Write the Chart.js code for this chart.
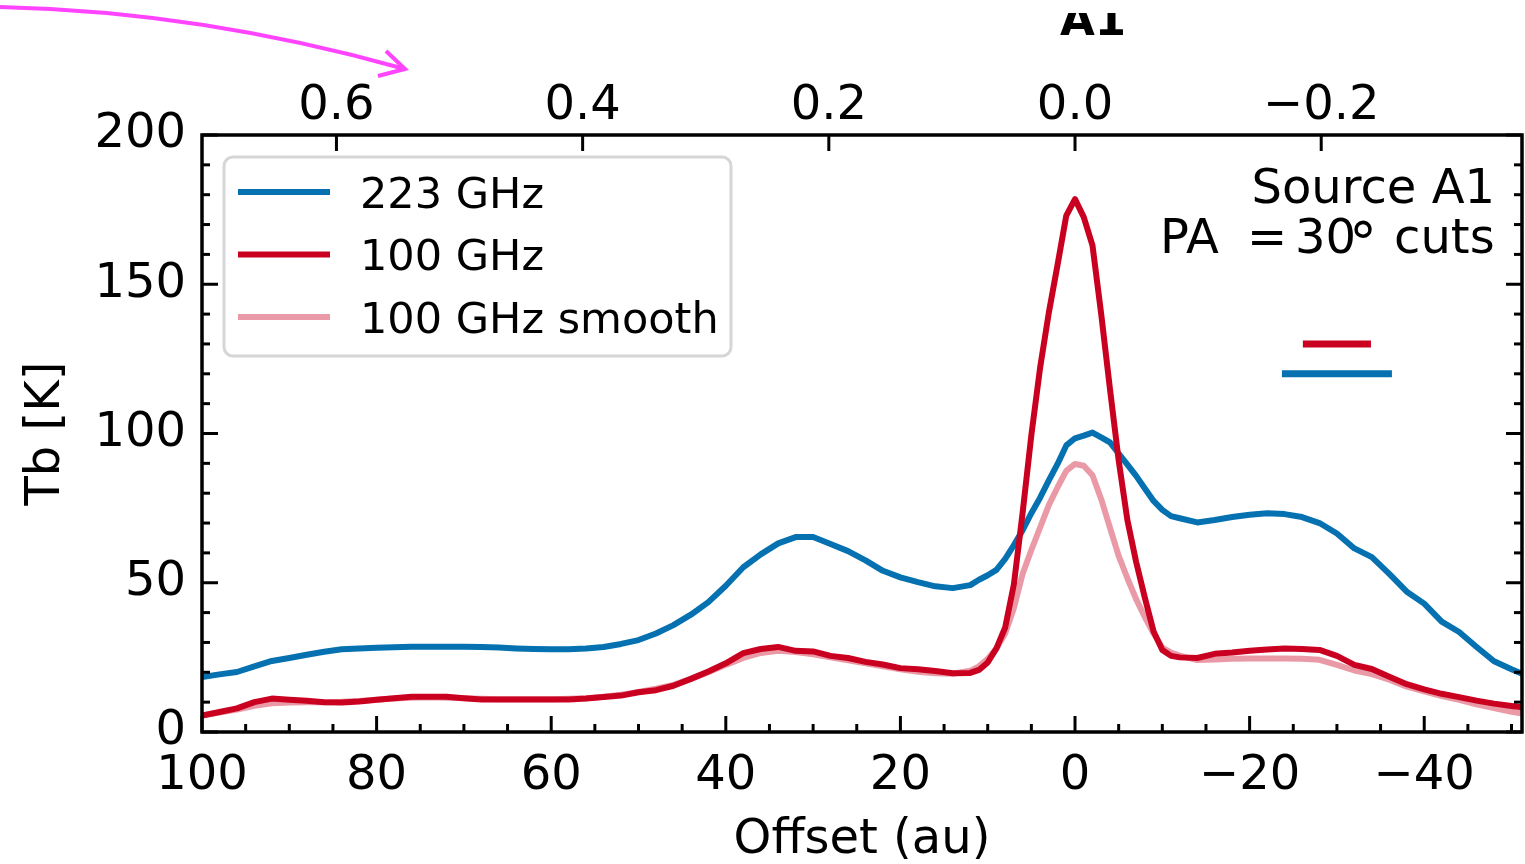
<!DOCTYPE html>
<html>
<head>
<meta charset="utf-8">
<title>A1 brightness temperature cuts</title>
<script src="https://cdn.jsdelivr.net/npm/chart.js@4.4.1/dist/chart.umd.min.js"></script>
<style>
  html, body { margin: 0; padding: 0; background: #fff; }
</style>
</head>
<body>
<canvas id="cuts" width="1525" height="864"></canvas>
<script>
// Offset along the PA = 30 deg cut, in au (positive to the left)
const offsetAu = [
  100, 98, 96, 94, 92, 90, 88, 86, 84, 82, 80, 78, 76, 74, 72, 70, 68, 66, 64, 62,
  60, 58, 56, 54, 52, 50, 48, 46, 44, 42, 40, 38, 36, 34, 32, 30, 28, 26, 24, 22,
  20, 18, 16, 14, 12, 11, 10, 9, 8, 7, 6, 5, 4, 3, 2, 1, 0, -1, -2, -3,
  -4, -5, -6, -7, -8, -9, -10, -11, -12, -14, -16, -18, -20, -22, -24, -26, -28, -30, -32, -34,
  -36, -38, -40, -42, -44, -46, -48, -50, -52
];

// Brightness temperature (K)
const tb223 = [
  18.4, 19.3, 20.1, 22.0, 23.8, 24.8, 25.9, 26.9, 27.7, 28.0, 28.2, 28.4, 28.6, 28.6, 28.6, 28.6, 28.5, 28.3, 28.0, 27.8,
  27.7, 27.7, 28.0, 28.5, 29.5, 30.8, 33.0, 35.8, 39.3, 43.5, 49.0, 55.2, 59.5, 63.2, 65.3, 65.3, 63.0, 60.6, 57.5, 54.0,
  51.8, 50.2, 48.8, 48.2, 49.2, 51.0, 52.5, 54.3, 58.0, 62.6, 67.6, 73.3, 78.5, 84.3, 89.8, 96.0, 98.4, 99.3, 100.3, 98.7,
  97.0, 93.3, 89.6, 85.8, 81.6, 77.4, 74.4, 72.3, 71.6, 70.2, 71.0, 72.0, 72.8, 73.3, 73.0, 72.0, 70.0, 66.5, 61.5, 58.6,
  53.0, 47.0, 43.0, 37.0, 33.5, 28.5, 23.7, 21.0, 18.5
];
const tb100 = [
  5.5, 6.7, 7.9, 10.0, 11.2, 10.8, 10.5, 10.0, 9.9, 10.2, 10.8, 11.3, 11.8, 11.8, 11.8, 11.3, 10.9, 10.9, 10.9, 10.9,
  10.9, 10.9, 11.2, 11.7, 12.2, 13.3, 14.0, 15.5, 17.8, 20.3, 23.0, 26.4, 27.8, 28.5, 27.2, 27.0, 25.5, 24.8, 23.5, 22.6,
  21.4, 21.0, 20.4, 19.7, 19.8, 20.8, 23.3, 28.0, 35.0, 49.5, 73.5, 99.5, 122.0, 140.5, 156.5, 173.0, 178.5, 172.5, 163.0, 140.0,
  115.0, 91.0, 71.0, 57.0, 45.0, 33.7, 27.5, 25.5, 25.0, 24.8, 26.2, 26.6, 27.2, 27.6, 28.0, 27.8, 27.5, 25.5, 22.5, 21.1,
  18.5, 16.0, 14.3, 12.8, 11.7, 10.5, 9.5, 8.7, 8.0
];
const tb100Smooth = [
  5.5, 6.5, 7.5, 8.8, 9.6, 9.9, 10.0, 10.0, 10.1, 10.4, 10.8, 11.2, 11.5, 11.6, 11.5, 11.3, 11.1, 11.0, 11.0, 11.0,
  11.0, 11.1, 11.3, 11.8, 12.5, 13.4, 14.5, 15.8, 17.8, 20.0, 22.5, 24.8, 26.5, 27.2, 26.8, 26.0, 25.0, 24.0, 23.0, 22.0,
  21.0, 20.2, 19.7, 19.5, 20.5, 22.0, 24.5, 28.0, 33.0, 41.5, 53.0, 61.0, 68.5, 76.0, 82.0, 87.5, 89.8, 89.2, 86.0, 78.0,
  68.5, 59.0, 51.5, 44.5, 38.5, 33.0, 28.3, 26.6, 25.6, 24.1, 24.3, 24.5, 24.6, 24.6, 24.6, 24.5, 24.2, 22.5, 20.6, 19.4,
  17.5, 15.2, 13.6, 12.0, 10.8, 9.3, 8.0, 6.8, 5.8
];

// Beam FWHM along the cut, drawn as bars
const beamLabels = ['100 GHz', '223 GHz'];
const beamWidthAu = [7.8, 12.6];
const beamLevelK = [130, 120];
const beamCenterAu = -30;

// Axis ranges and tick labels
const xMinAu = -51.2;
const xMaxAu = 100;
const distancePc = 141;          // au per arcsec
const xTicksAu = [-40, -20, 0, 20, 40, 60, 80, 100];
const xTicksArcsec = [-0.2, 0, 0.2, 0.4, 0.6];
const yTicksK = [0, 50, 100, 150, 200];

const panelTitle = 'A1';
const sourceLabel = 'Source A1';

const blue = '#0571b0';
const red = '#ca0020';
const pink = 'rgba(202, 0, 32, 0.4)';
const family = 'DejaVu Sans';

const toPoints = vals => offsetAu.map((x, i) => ({ x, y: vals[i] }));
const minus = s => String(s).replace('-', '\u2212');

const lineStyle = {
  pointRadius: 0,
  borderWidth: 6,
  borderJoinStyle: 'round',
  fill: false,
  tension: 0,
  clip: 0
};

const datasets = [
  { label: '223 GHz', data: toPoints(tb223), borderColor: blue, order: 3, ...lineStyle },
  { label: '100 GHz', data: toPoints(tb100), borderColor: red, order: 1, ...lineStyle },
  { label: '100 GHz smooth', data: toPoints(tb100Smooth), borderColor: pink, order: 2, ...lineStyle }
];

beamLabels.forEach((lab, i) => {
  datasets.push({
    label: lab + ' beam',
    beam: true,
    data: [
      { x: beamCenterAu - beamWidthAu[i] / 2, y: beamLevelK[i] },
      { x: beamCenterAu + beamWidthAu[i] / 2, y: beamLevelK[i] }
    ],
    borderColor: lab.startsWith('100') ? red : blue,
    borderWidth: 7,
    borderCapStyle: 'butt',
    pointRadius: 0,
    fill: false,
    order: 0
  });
});

// Spines and inward ticks on all four sides
const axesFrame = {
  id: 'axesFrame',
  afterDatasetsDraw(chart) {
    const { ctx, chartArea: a } = chart;
    const { x, x2, y } = chart.scales;
    const major = 16, minor = 8;
    const seg = (x0, y0, x1, y1) => {
      ctx.beginPath();
      ctx.moveTo(x0, y0);
      ctx.lineTo(x1, y1);
      ctx.stroke();
    };
    ctx.save();
    ctx.strokeStyle = '#000';
    ctx.lineWidth = 3;
    ctx.lineCap = 'butt';

    for (let v = Math.ceil(xMinAu / 5) * 5; v <= xMaxAu; v += 5) {
      const px = x.getPixelForValue(v);
      seg(px, a.bottom, px, a.bottom - (xTicksAu.includes(v) ? major : minor));
    }
    xTicksArcsec.forEach(v => {
      const px = x2.getPixelForValue(v);
      seg(px, a.top, px, a.top + major);
    });
    for (let v = 0; v <= 200; v += 10) {
      const py = y.getPixelForValue(v);
      const len = yTicksK.includes(v) ? major : minor;
      seg(a.left, py, a.left + len, py);
      seg(a.right, py, a.right - len, py);
    }

    ctx.lineWidth = 3.5;
    ctx.strokeRect(a.left, a.top, a.right - a.left, a.bottom - a.top);
    ctx.restore();
  }
};

// Boxed legend in the upper left of the axes
const boxedLegend = {
  id: 'boxedLegend',
  afterDraw(chart) {
    const { ctx, chartArea: a } = chart;
    const items = chart.data.datasets.filter(d => !d.beam);
    const bx = a.left + 22, by = a.top + 22, bw = 507, bh = 199, r = 9;
    ctx.save();
    ctx.beginPath();
    ctx.moveTo(bx + r, by);
    ctx.lineTo(bx + bw - r, by);
    ctx.arcTo(bx + bw, by, bx + bw, by + r, r);
    ctx.lineTo(bx + bw, by + bh - r);
    ctx.arcTo(bx + bw, by + bh, bx + bw - r, by + bh, r);
    ctx.lineTo(bx + r, by + bh);
    ctx.arcTo(bx, by + bh, bx, by + bh - r, r);
    ctx.lineTo(bx, by + r);
    ctx.arcTo(bx, by, bx + r, by, r);
    ctx.closePath();
    ctx.fillStyle = 'rgba(255, 255, 255, 0.8)';
    ctx.fill();
    ctx.lineWidth = 3;
    ctx.strokeStyle = '#d6d6d6';
    ctx.stroke();

    ctx.font = `43px "${family}"`;
    ctx.textBaseline = 'alphabetic';
    ctx.textAlign = 'left';
    items.forEach((d, i) => {
      const rowY = by + 35 + i * 62.5;
      ctx.strokeStyle = d.borderColor;
      ctx.lineWidth = 6;
      ctx.lineCap = 'butt';
      ctx.beginPath();
      ctx.moveTo(bx + 14, rowY);
      ctx.lineTo(bx + 106, rowY);
      ctx.stroke();
      ctx.fillStyle = '#000';
      ctx.fillText(d.label, bx + 136, rowY + 15.5);
    });
    ctx.restore();
  }
};

// Panel title, source note and the pointer arrow
const annotations = {
  id: 'annotations',
  afterDraw(chart) {
    const { ctx } = chart;
    ctx.save();
    ctx.fillStyle = '#000';

    // title sits partly above the top edge of the canvas crop
    ctx.save();
    ctx.beginPath();
    ctx.rect(0, 13, chart.width, chart.height);
    ctx.clip();
    ctx.font = `bold 45px "${family}"`;
    ctx.textAlign = 'center';
    ctx.fillText(panelTitle, 1093, 35);
    ctx.restore();

    ctx.font = `48px "${family}"`;
    ctx.textAlign = 'right';
    ctx.fillText(sourceLabel, 1495, 203);
    ctx.textAlign = 'left';
    ctx.fillText('PA', 1160, 253);
    ctx.fillText('=', 1247, 253);
    ctx.fillText('30', 1295, 253);
    ctx.fillText('cuts', 1394, 253);
    // superscript degree ring
    ctx.font = `56px "${family}"`;
    ctx.textAlign = 'center';
    ctx.fillText('\u2218', 1363, 247);

    ctx.strokeStyle = '#ff44ff';
    ctx.lineWidth = 4;
    ctx.lineCap = 'butt';
    ctx.lineJoin = 'miter';
    ctx.beginPath();
    ctx.moveTo(0, 7);
    ctx.quadraticCurveTo(201, 11.6, 403, 68.5);
    ctx.stroke();
    ctx.beginPath();
    ctx.moveTo(386, 51);
    ctx.lineTo(405, 69);
    ctx.lineTo(378, 76);
    ctx.stroke();
    ctx.restore();
  }
};

const tickFont = { family, size: 48 };

new Chart(document.getElementById('cuts'), {
  type: 'line',
  data: { datasets },
  options: {
    responsive: false,
    animation: false,
    events: [],
    layout: { padding: { left: 0, right: 3, top: 0, bottom: 0 } },
    plugins: {
      legend: { display: false },
      tooltip: { enabled: false }
    },
    scales: {
      x: {
        type: 'linear',
        position: 'bottom',
        reverse: true,
        min: xMinAu,
        max: xMaxAu,
        afterFit: s => { s.height = 132; },
        afterBuildTicks: s => { s.ticks = xTicksAu.map(v => ({ value: v })); },
        grid: { display: false, drawTicks: false },
        border: { display: false },
        ticks: {
          font: tickFont, color: '#000', padding: 16,
          maxRotation: 0, autoSkip: false,
          callback: v => minus(v)
        },
        title: { display: true, text: 'Offset (au)', font: tickFont, color: '#000', padding: { top: 0, bottom: -5 } }
      },
      x2: {
        type: 'linear',
        position: 'top',
        reverse: true,
        min: xMinAu / distancePc,
        max: xMaxAu / distancePc,
        afterFit: s => { s.height = 135; },
        afterBuildTicks: s => { s.ticks = xTicksArcsec.map(v => ({ value: v })); },
        grid: { display: false, drawTicks: false },
        border: { display: false },
        ticks: {
          font: tickFont, color: '#000', padding: 0,
          maxRotation: 0, autoSkip: false,
          callback: v => minus(v.toFixed(1))
        }
      },
      y: {
        type: 'linear',
        position: 'left',
        min: 0,
        max: 200,
        afterFit: s => { s.width = 202; },
        afterBuildTicks: s => { s.ticks = yTicksK.map(v => ({ value: v })); },
        grid: { display: false, drawTicks: false },
        border: { display: false },
        ticks: { font: tickFont, color: '#000', padding: 16, autoSkip: false },
        title: { display: true, text: 'Tb [K]', font: tickFont, color: '#000', padding: 18 }
      }
    }
  },
  plugins: [axesFrame, boxedLegend, annotations]
});
</script>
</body>
</html>
